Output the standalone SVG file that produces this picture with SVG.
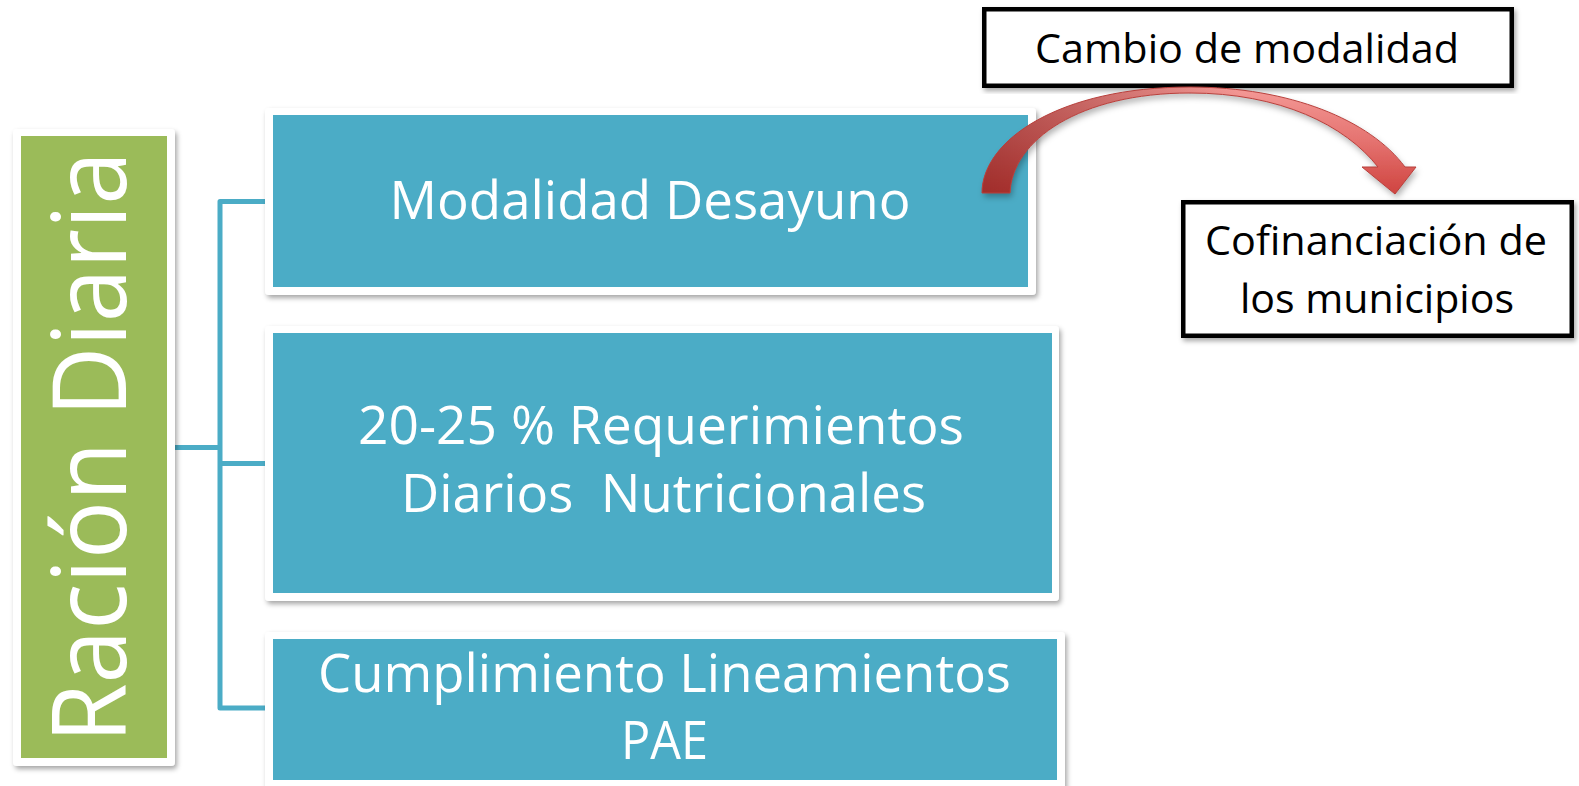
<svg xmlns="http://www.w3.org/2000/svg" width="1579" height="786" viewBox="0 0 1579 786">
<defs>
<filter id="sh" x="-10%" y="-10%" width="120%" height="120%">
<feDropShadow dx="2" dy="3" stdDeviation="2.5" flood-color="#000" flood-opacity="0.35"/>
</filter>
<filter id="ash" x="-10%" y="-20%" width="120%" height="140%">
<feDropShadow dx="2" dy="4" stdDeviation="3" flood-color="#000" flood-opacity="0.3"/>
</filter>
<linearGradient id="ag" x1="0" y1="0" x2="0" y2="1">
<stop offset="0" stop-color="#F49A97"/>
<stop offset="0.5" stop-color="#E57370"/>
<stop offset="1" stop-color="#CF4440"/>
</linearGradient>
<linearGradient id="ad" x1="0" y1="0" x2="1" y2="0">
<stop offset="0" stop-color="#7A1A18" stop-opacity="0.55"/>
<stop offset="0.45" stop-color="#7A1A18" stop-opacity="0.15"/>
<stop offset="0.6" stop-color="#7A1A18" stop-opacity="0"/>
</linearGradient>
<style>
.wb{fill:#FFFFFF;filter:url(#sh)}
.blue{fill:#4BACC6}
.green{fill:#9BBB59}
.wt{fill:#FFFFFF;font-family:"Open Sans","Noto Sans",sans-serif;text-anchor:middle}
.bt{fill:#000000;font-family:"Open Sans","Noto Sans",sans-serif;text-anchor:middle;font-size:41px}
.ob{fill:#FFFFFF;stroke:#000000;stroke-width:4.5;filter:url(#sh)}
.conn{fill:none;stroke:#4BACC6;stroke-width:5;stroke-linejoin:round}
</style>
<path id="arrowShape" d="M982,193 C982,140 1060,87 1190,87 C1290,87 1370,120 1405,167 L1416,167 L1395,194 L1362,167 L1378,167 C1345,125 1280,93 1190,93 C1080,93 1012,140 1010,193 Z"/>
</defs>
<rect width="1579" height="786" fill="#FFFFFF"/>
<g id="connectors">
<path class="conn" d="M265,201.5 H220 V708 H265"/>
<path class="conn" d="M175,447.5 H220"/>
<path class="conn" d="M220,463.5 H265"/>
</g>
<g id="racion">
<rect class="wb" x="13" y="129" width="162" height="637" rx="4"/>
<rect class="green" x="21" y="136" width="146" height="622"/>
<text class="wt" transform="translate(126,447) rotate(-90)" x="0" y="0" font-size="102" textLength="592" lengthAdjust="spacingAndGlyphs">Ración Diaria</text>
</g>
<g id="desayuno">
<rect class="wb" x="265" y="108" width="771" height="187" rx="4"/>
<rect class="blue" x="273" y="115" width="755" height="172"/>
<text class="wt" x="650" y="219" font-size="53" textLength="521" lengthAdjust="spacingAndGlyphs">Modalidad Desayuno</text>
</g>
<g id="requerimientos">
<rect class="wb" x="265" y="326" width="794" height="275" rx="4"/>
<rect class="blue" x="273" y="333" width="779" height="260"/>
<text class="wt" x="661" y="444" font-size="53" textLength="606" lengthAdjust="spacingAndGlyphs">20-25 % Requerimientos</text>
<text class="wt" x="663.5" y="512" font-size="53" textLength="525" lengthAdjust="spacingAndGlyphs" xml:space="preserve" style="white-space:pre">Diarios  Nutricionales</text>
</g>
<g id="lineamientos">
<rect class="wb" x="265" y="632" width="800" height="160" rx="4"/>
<rect class="blue" x="273" y="639" width="784" height="141"/>
<text class="wt" x="664.5" y="692" font-size="53" textLength="693" lengthAdjust="spacingAndGlyphs">Cumplimiento Lineamientos</text>
<text class="wt" x="664.5" y="759" font-size="53" textLength="87" lengthAdjust="spacingAndGlyphs">PAE</text>
</g>
<g id="cambio">
<rect class="ob" x="984.25" y="9.25" width="527.5" height="76.5"/>
<text class="bt" x="1247" y="63" textLength="424" lengthAdjust="spacingAndGlyphs">Cambio de modalidad</text>
</g>
<g id="cofinanciacion">
<rect class="ob" x="1183.25" y="202.25" width="388.5" height="133.5"/>
<text class="bt" x="1376" y="255" textLength="342" lengthAdjust="spacingAndGlyphs">Cofinanciación de</text>
<text class="bt" x="1377" y="313" textLength="274" lengthAdjust="spacingAndGlyphs">los municipios</text>
</g>
<g id="arrow">
<use href="#arrowShape" filter="url(#ash)" fill="url(#ag)"/>
<use href="#arrowShape" fill="url(#ad)" stroke="#B8403C" stroke-width="1"/>
</g>
</svg>
